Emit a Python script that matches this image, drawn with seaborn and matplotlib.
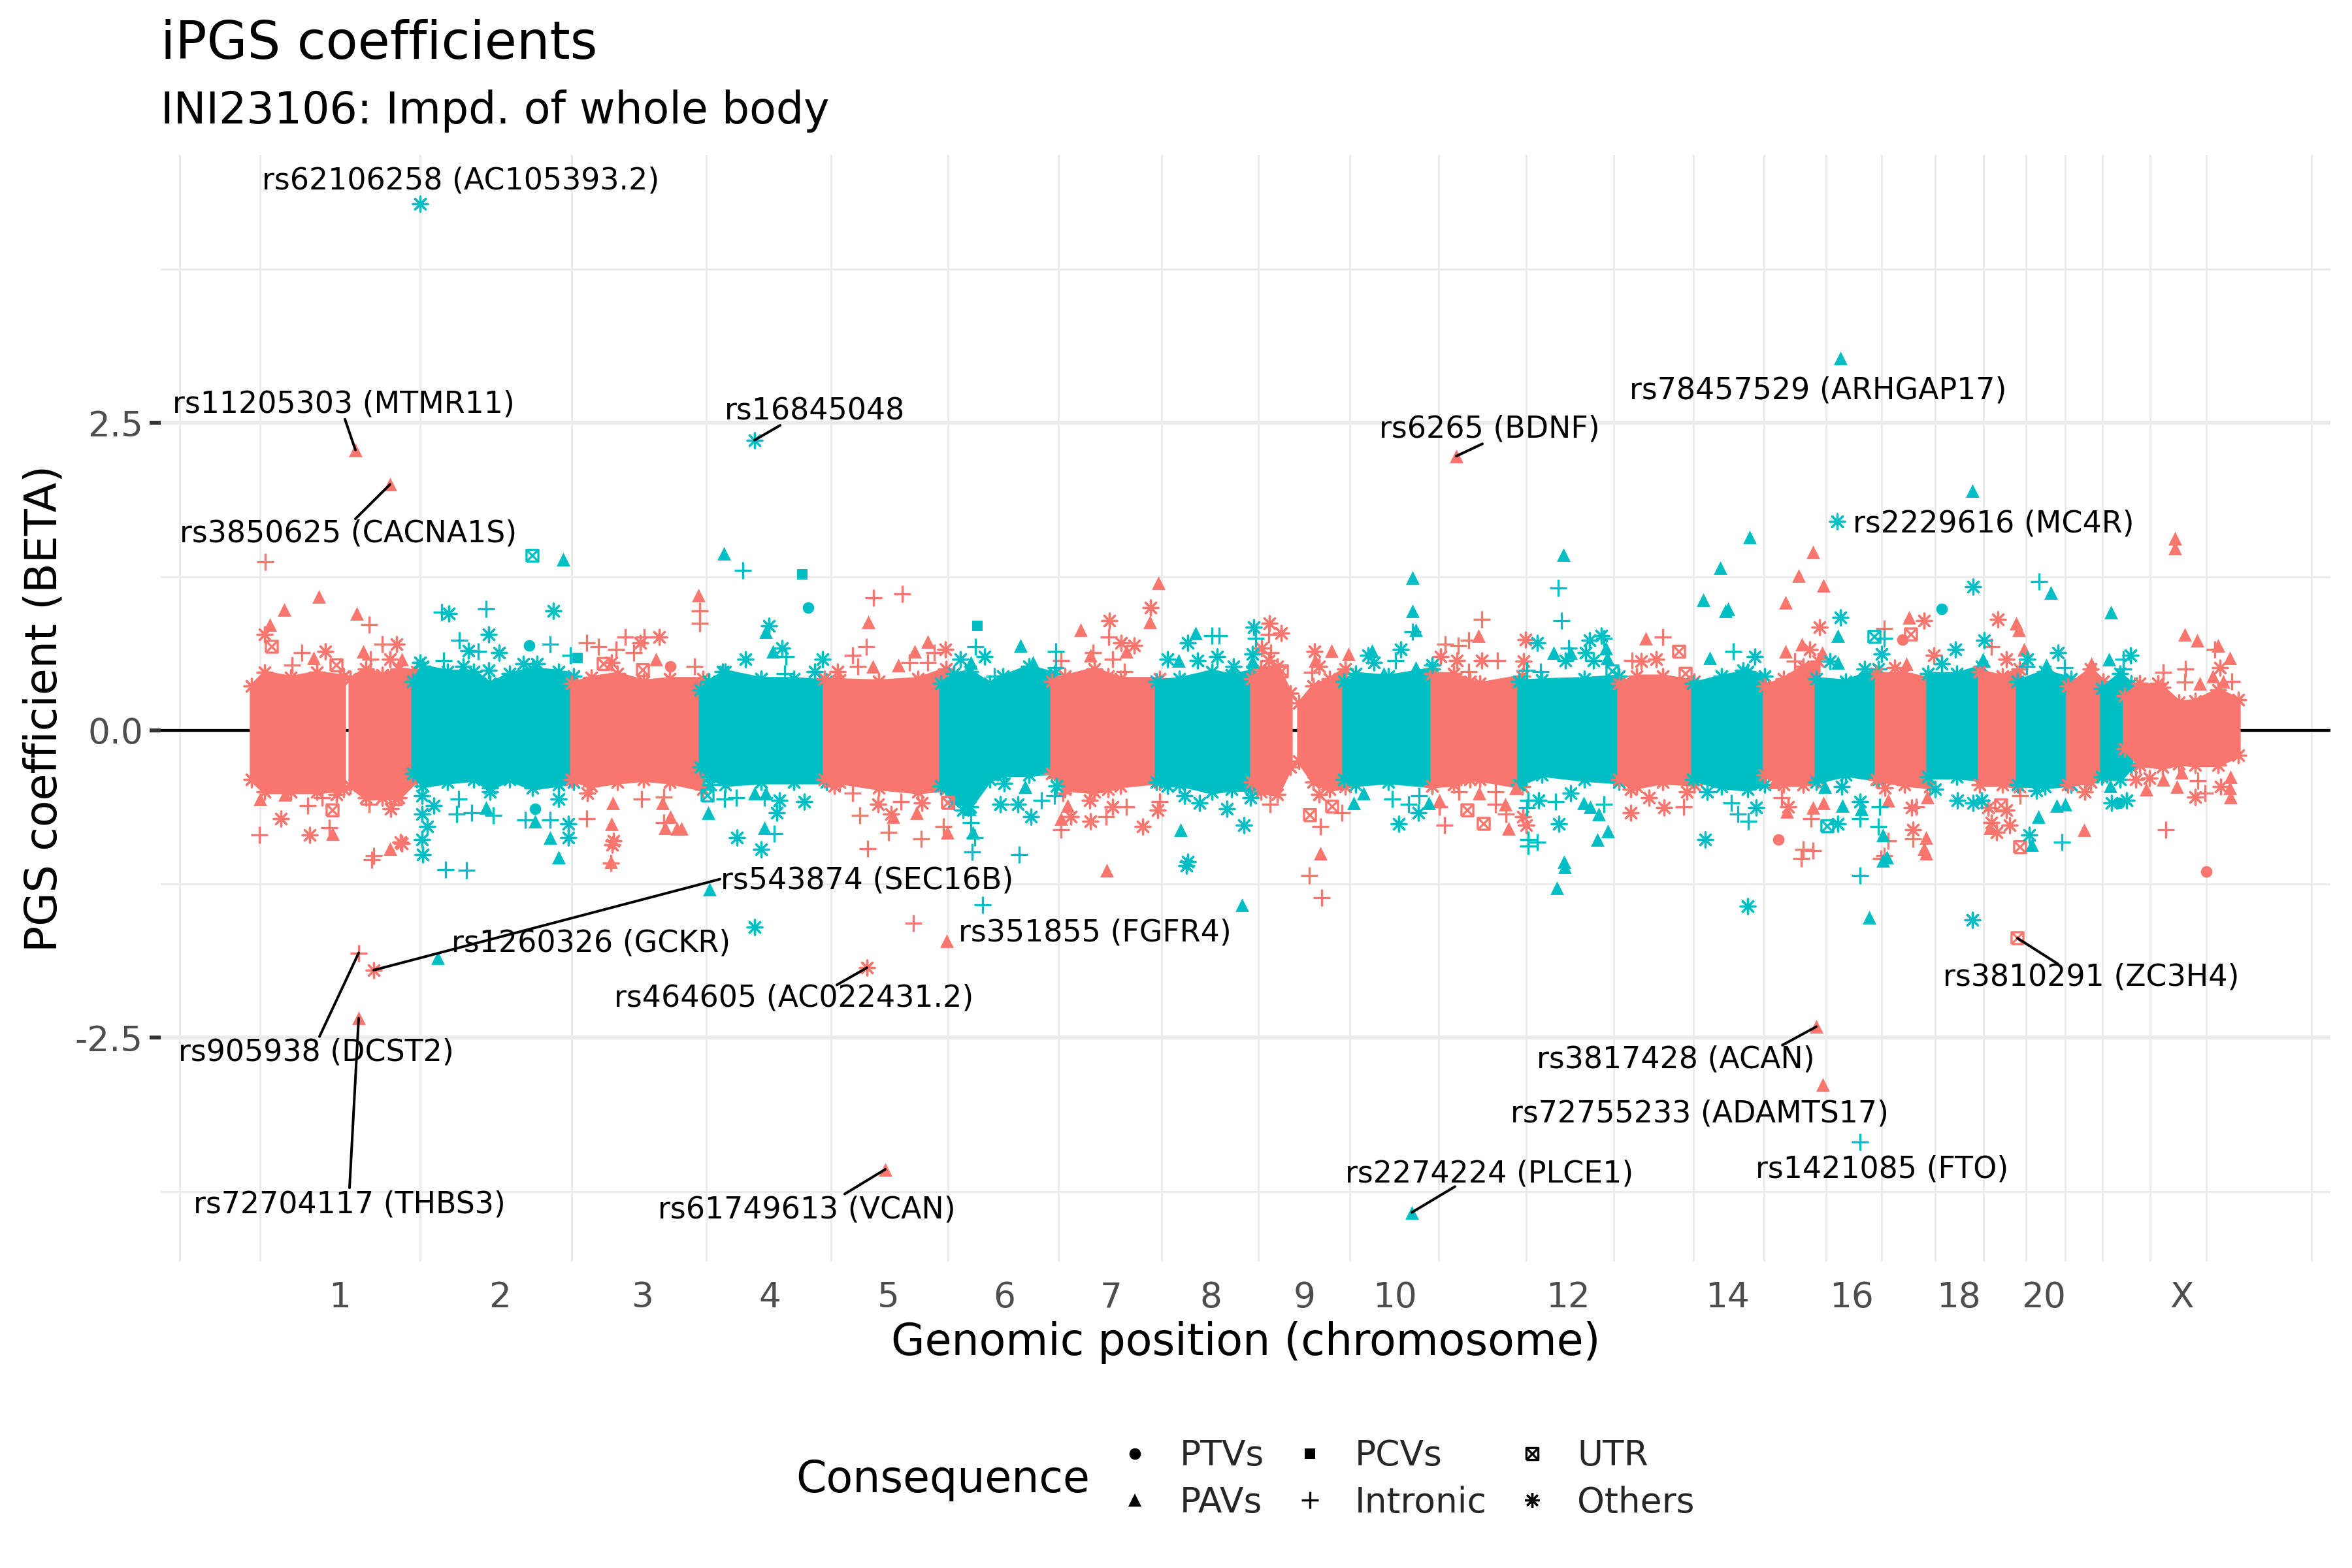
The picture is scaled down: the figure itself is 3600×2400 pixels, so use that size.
# iPGS coefficient Manhattan plot
import matplotlib

matplotlib.use("Agg")
import matplotlib.pyplot as plt
import pandas as pd
import seaborn as sns
from matplotlib.lines import Line2D
from matplotlib.path import Path

# x axis: cumulative position in Mb, y axis: BETA
chrom_labels = ["1", "2", "3", "4", "5", "6", "7", "8", "9", "10", "", "12", "",
                "14", "", "16", "", "18", "", "20", "", "", "X"]
chrom_centers = [135, 380, 599, 793, 975, 1152, 1316, 1468, 1612, 1750, 1883, 2015,
                 2155, 2259, 2371, 2449, 2541, 2613, 2689, 2743, 2809, 2857, 2955]
chrom_between = [-110, 13, 258, 490, 696, 887, 1066, 1235, 1393, 1541, 1681, 1817, 1951,
                 2085, 2207, 2315, 2410, 2495, 2577, 2651, 2716, 2776, 2833, 2906, 2992, 3153]

# dense body of each chromosome, as its upper and lower edge
# (strip, positions, upper edge, lower edge)
bands = [
    ("a", [0, 20, 60, 100, 141], [.36, .47, .43, .47, .44], [-.40, -.50, -.50, -.50, -.48]),
    ("a", [151, 175, 200, 225, 253], [.42, .50, .45, .50, .48], [-.45, -.55, -.55, -.55, -.40]),
    ("b", [247, 262, 300, 340, 365, 395, 430, 470, 493], [.40, .52, .48, .48, .38, .46, .50, .48, .44],
     [-.35, -.45, -.42, -.40, -.47, -.40, -.47, -.44, -.42]),
    ("a", [490, 520, 560, 600, 640, 691], [.38, .43, .46, .40, .42, .42], [-.40, -.45, -.42, -.40, -.42, -.48]),
    ("b", [687, 700, 725, 780, 830, 880], [.33, .40, .48, .42, .42, .40], [-.30, -.38, -.44, -.42, -.42, -.42]),
    ("a", [877, 900, 960, 1020, 1063], [.42, .41, .40, .42, .50], [-.40, -.42, -.47, -.50, -.48]),
    ("b", [1055, 1075, 1100, 1130, 1150, 1190, 1229], [.38, .46, .48, .38, .44, .52, .46],
     [-.45, -.58, -.62, -.40, -.36, -.36, -.34]),
    ("a", [1225, 1245, 1290, 1330, 1390], [.40, .44, .50, .42, .42], [-.35, -.48, -.50, -.45, -.42]),
    ("b", [1385, 1420, 1470, 1500, 1531], [.40, .42, .48, .45, .48], [-.42, -.44, -.50, -.48, -.48]),
    ("a", [1531, 1545, 1570, 1590], [.42, .50, .52, .30], [-.42, -.50, -.52, -.30]),
    ("a", [1603, 1625, 1650, 1674], [.22, .36, .42, .50], [-.25, -.42, -.48, -.46]),
    ("b", [1672, 1690, 1740, 1807], [.40, .46, .44, .50], [-.40, -.44, -.42, -.45]),
    ("a", [1807, 1840, 1865, 1880, 1945], [.46, .46, .40, .38, .44], [-.45, -.44, -.40, -.40, -.46]),
    ("b", [1940, 1975, 2040, 2093], [.40, .41, .42, .44], [-.44, -.36, -.40, -.42]),
    ("a", [2093, 2120, 2160, 2208], [.38, .44, .44, .40], [-.40, -.46, -.42, -.44]),
    ("b", [2206, 2250, 2290, 2316], [.38, .44, .48, .44], [-.40, -.46, -.48, -.44]),
    ("a", [2316, 2345, 2375, 2398], [.36, .42, .52, .56], [-.36, -.44, -.44, -.40]),
    ("b", [2395, 2440, 2490], [.42, .40, .50], [-.42, -.36, -.40]),
    ("a", [2487, 2530, 2569], [.46, .46, .42], [-.40, -.44, -.46]),
    ("b", [2566, 2610, 2648], [.46, .46, .52], [-.38, -.38, -.40]),
    ("a", [2645, 2680, 2706], [.48, .44, .50], [-.44, -.44, -.46]),
    ("b", [2703, 2745, 2785], [.40, .48, .42], [-.44, -.46, -.44]),
    ("a", [2780, 2815, 2834], [.36, .50, .40], [-.44, -.42, -.36]),
    ("b", [2832, 2860, 2877], [.34, .46, .38], [-.38, -.40, -.30]),
    ("a", [2867, 2890, 2925, 2950, 2975, 3010, 3041], [.28, .38, .35, .23, .24, .33, .25],
     [-.15, -.28, -.30, -.27, -.28, -.28, -.20]),
]

# variants standing clear of the body, (position, BETA)
red_pavs = [(159, 2.28), (212, 2.0), (1844, 2.23), (164, -2.34), (1064, -1.71), (970, -3.57), (2395, -2.41),
            (2405, -2.88), (103, 1.09), (50, .98), (28, .86), (161, .95), (171, .64), (230, .58), (95, .59),
            (619, .58), (13, -.56), (51, -.52), (124, -.84), (212, -.96), (553, -.59), (629, -.59), (551, -.76),
            (641, -.70), (633, -.79), (651, -.80), (550, -1.07), (684, 1.10), (944, .88), (1035, .72), (1015, .64),
            (951, .52), (990, .53), (658, -.80), (982, -.70), (1018, -.67), (1065, -.83), (1388, 1.20), (1375, .88),
            (1269, .82), (1339, .64), (1284, .61), (1239, -.72), (1249, -.61), (1653, .65), (1628, .57), (1679, .62),
            (1878, .77), (1636, -1.0), (1818, -.57), (1879, -.51), (1919, -.60), (1924, -.80), (1935, -.47),
            (2134, .75), (2390, 1.45), (2368, 1.26), (2406, 1.18), (2348, 1.04), (2348, .64), (2373, .70), (2404, .63),
            (2537, .92), (2533, .54), (2701, .87), (2705, .82), (2713, .66), (2816, .54), (2944, 1.56), (2944, 1.48),
            (2959, .78), (2978, .73), (3010, .69), (3028, .59), (3002, .44), (2982, .38), (3018, .40), (2331, -.42),
            (2350, -.66), (2406, -.59), (2390, -.63), (2505, -.57), (2563, -.87), (2560, -.96), (2563, -1.0),
            (2565, -.54), (2661, -.79), (2805, -.81), (2900, -.48), (2926, -.40), (2947, -.46), (2954, -.34),
            (3029, -.38), (3028, -.47), (3029, -.54), (1309, -1.14)]
red_intronic = [(164, -1.81), (21, 1.37), (180, .86), (77, .63), (62, .53), (200, .70), (182, .58), (513, .71),
                (531, .68), (572, .76), (601, .76), (558, .66), (585, .63), (86, -.61), (108, -.55), (12, -.85),
                (119, -.79), (180, -.60), (187, -1.02), (184, -1.05), (513, -.72), (597, -.56), (631, -.54),
                (631, -.75), (550, -1.08), (686, .97), (686, .87), (678, .52), (952, 1.08), (996, 1.11), (941, .68),
                (920, .61), (1045, .63), (1007, .55), (928, .52), (1035, .55), (1312, .76), (1318, .58), (1288, .63),
                (1239, .57), (1336, .48), (920, -.51), (931, -.69), (994, -.58), (975, -.83), (1025, -.88),
                (943, -.96), (1059, -.78), (1242, -.51), (1239, -.81), (1308, -.70), (1339, -.62), (1390, -.58),
                (1013, -1.57), (1557, .78), (1560, .63), (1623, .47), (1883, .90), (1863, .73), (1827, .70),
                (1847, .69), (1907, .57), (1863, .48), (1559, -.60), (1636, -.78), (1669, -.67), (1818, -.62),
                (1826, -.77), (1848, -.50), (1904, -.50), (1904, -.60), (1920, -.68), (1619, -1.18), (1638, -1.36),
                (2160, .76), (2113, .57), (2192, -.62), (2362, .56), (2499, .83), (2663, .68), (2926, .47),
                (2960, .50), (2959, .39), (3005, .66), (3031, .40), (2890, .38), (2342, -.55), (2387, -.72),
                (2390, -.98), (2375, -.97), (2372, -1.04), (2505, -.90), (2499, -1.02), (2548, -.62), (2543, -.88),
                (2707, -.53), (2930, -.81), (2990, -.51), (2979, -.41), (2494, -1.04)]
red_others = [(187, -1.95), (942, -1.93), (20, .78), (113, .64), (222, .70), (212, .58), (595, .71), (624, .76),
              (551, .55), (130, -.52), (45, -.72), (89, -.85), (213, -.64), (228, -.91), (514, -.51), (554, -.90),
              (230, -.92), (552, -.93), (1062, .66), (897, .48), (1376, 1.0), (1313, .89), (1331, .71), (1351, .69),
              (1311, .44), (892, -.45), (959, -.60), (979, -.68), (1026, -.59), (1288, -.42), (1254, -.70),
              (1284, -.74), (1318, -.62), (1311, -.48), (1364, -.78), (1387, -.65), (1283, -.57), (1558, .87),
              (1576, .79), (1546, .67), (1557, .57), (1627, .64), (1634, .52), (1820, .60), (1845, .57), (1883, .57),
              (1950, .74), (1947, .56), (1634, -.52), (1946, -.70), (1951, -.77), (2127, .56), (2150, .58),
              (2111, -.67), (2162, -.63), (2139, -.55), (2111, -.48), (2197, -.50), (2400, .84), (2385, .66),
              (2560, .89), (2575, .61), (2515, .51), (2673, .90), (2686, .58), (3013, .51), (2918, .38), (2352, -.62),
              (2500, -.47), (2541, -.63), (2543, -.81), (2658, -.63), (2686, -.65), (2663, -.75), (2691, -.77),
              (2671, -.83), (2806, -.50), (2884, -.40), (2905, -.39), (2975, -.54), (3014, -.46)]
red_utr = [(2703, -1.69), (31, .68), (130, .53), (539, .54), (599, .49), (124, -.65), (221, -.56), (1577, .48),
           (1620, -.69), (1654, -.62), (1861, -.65), (1886, -.76), (2185, .64), (2195, .46), (2540, .78),
           (2678, -.61), (2707, -.95), (1066, -.59)]
red_ptvs = [(641, .52), (2527, .74), (2337, -.89), (2992, -1.15)]

teal_pavs = [(2432, 3.03), (2634, 1.95), (285, -1.85), (1776, -3.92), (477, 1.39), (723, 1.44), (787, .80), (798, .64),
             (1177, .69), (1101, .55), (1196, .55), (1445, .79), (1419, .57), (1532, .56), (1715, .65), (1777, 1.24),
             (1777, .97), (1782, .82), (1782, .51), (1733, .46), (1993, .63), (2008, 1.43), (2019, .63), (2073, .67),
             (2075, .59), (2222, 1.06), (2256, .97), (2248, 1.32), (2232, .59), (2293, 1.57), (2260, .99), (2428, .77),
             (2428, .55), (2650, .58), (2754, 1.12), (2747, .53), (2846, .96), (2843, .58), (359, -.63), (434, -.74),
             (457, -.87), (470, -1.03), (699, -.67), (770, -.51), (787, -.51), (785, -.79), (1099, -.64), (1104, -.83),
             (1184, -.46), (1422, -.81), (1687, -.59), (1702, -.51), (1802, -.59), (2039, -.59), (2062, -.68),
             (2060, -.89), (2076, -.82), (2009, -1.07), (2049, -.62), (2408, -.46), (2435, -.61), (2464, -.64),
             (2497, -.85), (2497, -1.06), (2735, -.70), (2763, -.61), (2776, -.60), (2725, -.93), (2845, -.45),
             (701, -1.29), (1516, -1.42), (2476, -1.52), (1998, -1.28), (2010, -1.11), (2503, -1.03)]
teal_intronic = [(2462, -3.35), (291, .96), (359, .99), (318, .73), (347, .64), (457, .70), (488, .61), (294, .57),
                 (752, 1.30), (818, .60), (816, .46), (1108, .68), (1137, .44), (1231, .64), (1231, .51), (1470, .77),
                 (1481, .77), (1537, .75), (1751, .57), (1777, .80), (2000, 1.16), (2005, .89), (2016, .67), (2070, .75),
                 (1973, .48), (1952, .49), (2268, .64), (2499, .75), (2736, 1.21), (2717, .52), (2775, .51), (2865, .58),
                 (2865, .50), (314, -.68), (337, -.67), (370, -.69), (317, -.56), (297, -1.13), (329, -1.14),
                 (419, -.73), (457, -.73), (724, -.56), (742, -.55), (785, -.55), (800, -.84), (1101, -.75),
                 (1107, -.87), (1103, -.99), (1175, -1.01), (1209, -.57), (1229, -.53), (1746, -.56), (1771, -.60),
                 (1787, -.53), (1954, -.57), (1954, -.89), (1954, -.94), (1952, -.63), (1996, -.58), (2070, -.60),
                 (2265, -.59), (2275, -.68), (2291, -.74), (2462, -.72), (2490, -.78), (2492, -.62), (2771, -.91),
                 (1119, -1.42), (1968, -.91), (2462, -1.18)]
teal_others = [(258, 4.28), (770, 2.36), (2427, 1.70), (302, .95), (462, .97), (363, .78), (332, .65), (379, .63),
               (363, .49), (416, .54), (437, .54), (258, .55), (324, .52), (792, .85), (812, .67), (756, .58),
               (874, .58), (862, .48), (780, .42), (721, .48), (1085, .58), (1122, .60), (1433, .71), (1402, .58),
               (1448, .57), (1534, .84), (1478, .60), (1532, .62), (1503, .52), (1709, .61), (1759, .66), (1718, .55),
               (1807, .53), (1968, .71), (2042, .63), (2048, .73), (2066, .77), (2054, .57), (2011, .57), (2301, .60),
               (2283, .49), (2432, .92), (2416, .56), (2495, .62), (2469, .50), (2608, .66), (2652, .73), (2635, 1.17),
               (2587, .54), (2718, .58), (2765, .63), (2876, .61), (261, -.53), (261, -.68), (269, -.78), (261, -.89),
               (262, -1.01), (365, -.50), (279, -.61), (470, -.56), (485, -.76), (485, -.87), (702, -.44), (808, -.57),
               (804, -.67), (846, -.58), (743, -.87), (780, -.97), (1089, -.65), (1146, -.60), (1173, -.60),
               (1152, -.43), (1193, -.70), (1232, -.45), (1433, -1.07), (1402, -.45), (1428, -.53), (1451, -.59),
               (1493, -.64), (1519, -.77), (1529, -.55), (1756, -.76), (1786, -.67), (1970, -.57), (2001, -.76),
               (2019, -.51), (2225, -.89), (2228, -.50), (2303, -.63), (2428, -.76), (2434, -.46), (2462, -.58),
               (2577, -.48), (2611, -.57), (2635, -.59), (2648, -.57), (2732, -.49), (2721, -.85), (2847, -.59),
               (2870, -.57), (770, -1.60), (1431, -1.10), (2290, -1.43), (2634, -1.54)]
teal_utr = [(430, 1.42), (2484, .76), (2083, .48), (2412, -.78), (698, -.53)]
teal_ptvs = [(425, .69), (852, 1.0), (2587, .99), (434, -.64), (2859, -.59)]
teal_pcvs = [(499, .59), (843, 1.27), (1111, .85)]

# labelled variants
label_names = ["rs62106258 (AC105393.2)", "rs11205303 (MTMR11)", "rs3850625 (CACNA1S)", "rs16845048", "rs6265 (BDNF)",
               "rs78457529 (ARHGAP17)", "rs2229616 (MC4R)", "rs543874 (SEC16B)", "rs1260326 (GCKR)",
               "rs905938 (DCST2)", "rs464605 (AC022431.2)", "rs351855 (FGFR4)", "rs72704117 (THBS3)",
               "rs61749613 (VCAN)", "rs2274224 (PLCE1)", "rs3817428 (ACAN)", "rs72755233 (ADAMTS17)",
               "rs1421085 (FTO)", "rs3810291 (ZC3H4)"]
label_x = [320, 141, 148, 862, 1895, 2398, 2666, 942, 520, 99, 830, 1291, 150, 850, 1895, 2180, 2216, 2496, 2816]
label_y = [4.47, 2.65, 1.60, 2.59, 2.45, 2.76, 1.68, -1.22, -1.73, -2.62, -2.18, -1.65, -3.86, -3.90, -3.61, -2.68,
           -3.12, -3.57, -2.01]
# repel segments, variant -> label
seg_from = [(159, 2.28), (212, 2.0), (770, 2.36), (1844, 2.23), (187, -1.95), (164, -1.81), (942, -1.93),
            (164, -2.34), (970, -3.57), (1776, -3.92), (2395, -2.41), (2703, -1.69)]
seg_to = [(143, 2.53), (159, 1.72), (809, 2.48), (1884, 2.33), (717, -1.21), (104, -2.49), (896, -2.07),
          (150, -3.72), (908, -3.77), (1842, -3.71), (2343, -2.56), (2765, -1.90)]

colors = {"a": "#F8766D", "b": "#00BFC4"}

# R pch 7 and pch 8 do not exist in matplotlib, so build them
square_x = Path(
    [(-1, -1), (1, -1), (1, 1), (-1, 1), (-1, -1), (-1, -1), (1, 1), (-1, 1), (1, -1)],
    [Path.MOVETO, Path.LINETO, Path.LINETO, Path.LINETO, Path.LINETO, Path.MOVETO, Path.LINETO, Path.MOVETO, Path.LINETO],
)
markers = {
    "PTVs": ("o", 18),
    "PCVs": ("s", 15),
    "UTR": (square_x, 19),
    "PAVs": ("^", 25),
    "Intronic": ("+", 38),
    "Others": ((8, 2, 0), 30),
}

groups = [
    ("a", "PAVs", red_pavs), ("a", "Intronic", red_intronic), ("a", "Others", red_others),
    ("a", "UTR", red_utr), ("a", "PTVs", red_ptvs),
    ("b", "PAVs", teal_pavs), ("b", "Intronic", teal_intronic), ("b", "Others", teal_others),
    ("b", "UTR", teal_utr), ("b", "PTVs", teal_ptvs), ("b", "PCVs", teal_pcvs),
]
rows = []
for strip, cons, pts in groups:
    for x, y in pts:
        rows.append({"pos": x, "beta": y, "strip": strip, "consequence": cons})
df = pd.DataFrame(rows)

sns.set_theme(style="white")
fig = plt.figure(figsize=(12, 8), dpi=300)
ax = fig.add_axes([246 / 3600, 1 - 1931 / 2400, (3567 - 246) / 3600, (1931 - 237) / 2400])

ax.axhline(0, color="black", lw=1.0, zorder=1.5)
for strip, xs, top, bot in bands:
    ax.fill_between(xs, bot, top, color=colors[strip], lw=1.5, zorder=2)
    # star markers on the sampled edge points roughen the outline like the overplotted points do
    edge_x = xs + xs
    edge_y = top + bot
    sns.scatterplot(x=edge_x, y=edge_y, ax=ax, marker=(8, 2, 0), s=30, color=colors[strip],
                    linewidth=0.8, zorder=2, legend=False)

for (strip, cons), sub in df.groupby(["strip", "consequence"]):
    marker, size = markers[cons]
    if cons == "UTR":
        sns.scatterplot(data=sub, x="pos", y="beta", ax=ax, marker=marker, s=size, facecolor="none",
                        edgecolor=colors[strip], linewidth=0.8, zorder=3, legend=False)
    elif cons in ("Intronic", "Others"):
        sns.scatterplot(data=sub, x="pos", y="beta", ax=ax, marker=marker, s=size, color=colors[strip],
                        linewidth=0.8, zorder=3, legend=False)
    else:
        sns.scatterplot(data=sub, x="pos", y="beta", ax=ax, marker=marker, s=size, color=colors[strip],
                        linewidth=0, zorder=3, legend=False)

for (x0, y0), (x1, y1) in zip(seg_from, seg_to):
    ax.plot([x0, x1], [y0, y1], color="black", lw=0.95, zorder=4)
for name, x, y in zip(label_names, label_x, label_y):
    ax.text(x, y, name, fontsize=11, color="black", ha="center", va="center", zorder=5)

ax.set_xlim(-139, 3182)
ax.set_ylim(-4.32, 4.68)
ax.set_xticks(chrom_centers, chrom_labels)
ax.set_xticks(chrom_between, minor=True)
ax.set_yticks([-2.5, 0, 2.5], ["-2.5", "0.0", "2.5"])
ax.set_yticks([-3.75, -1.25, 1.25, 3.75], minor=True)
ax.set_axisbelow(True)
ax.grid(False)
ax.grid(which="major", axis="y", color="#EBEBEB", lw=1.44)
ax.grid(which="minor", axis="both", color="#EBEBEB", lw=0.72)
ax.tick_params(axis="x", which="both", length=0, labelsize=12.8, labelcolor="#4D4D4D", pad=7)
ax.tick_params(axis="y", which="major", length=4, width=1.44, color="#333333", labelsize=12.8,
               labelcolor="#4D4D4D", pad=2.5, left=True)
ax.tick_params(axis="y", which="minor", length=0)
sns.despine(ax=ax, left=True, bottom=True)
ax.set_xlabel("Genomic position (chromosome)", fontsize=16, color="black", labelpad=2.4)
ax.set_ylabel("PGS coefficient (BETA)", fontsize=16, color="black", labelpad=3.5)

fig.text(246 / 3600, 1 - 90 / 2400, "iPGS coefficients", fontsize=19.2, color="black", ha="left", va="baseline")
fig.text(246 / 3600, 1 - 189 / 2400, "INI23106: Impd. of whole body", fontsize=16, color="black", ha="left",
         va="baseline")

# legend, filled by column as in the original
legend_order = ["PTVs", "PAVs", "PCVs", "Intronic", "UTR", "Others"]
handles = []
for cons in legend_order:
    marker, size = markers[cons]
    filled = cons in ("PTVs", "PCVs", "PAVs")
    handles.append(Line2D([], [], linestyle="none", marker=marker, markersize=size ** 0.5,
                          markerfacecolor="black" if filled else "none", markeredgecolor="black",
                          markeredgewidth=0 if filled else 0.8))
fig.legend(handles, legend_order, ncol=3, frameon=False, fontsize=12.8, loc="center left",
           bbox_to_anchor=(1710 / 3600, 1 - 2264 / 2400), handlelength=1, handletextpad=0.8,
           columnspacing=0.8, labelspacing=0.36, borderpad=0, borderaxespad=0)
fig.text(1218 / 3600, 1 - 2265 / 2400, "Consequence", fontsize=16, color="black", ha="left", va="center")

fig.savefig("out.png", dpi=300, facecolor="white")
